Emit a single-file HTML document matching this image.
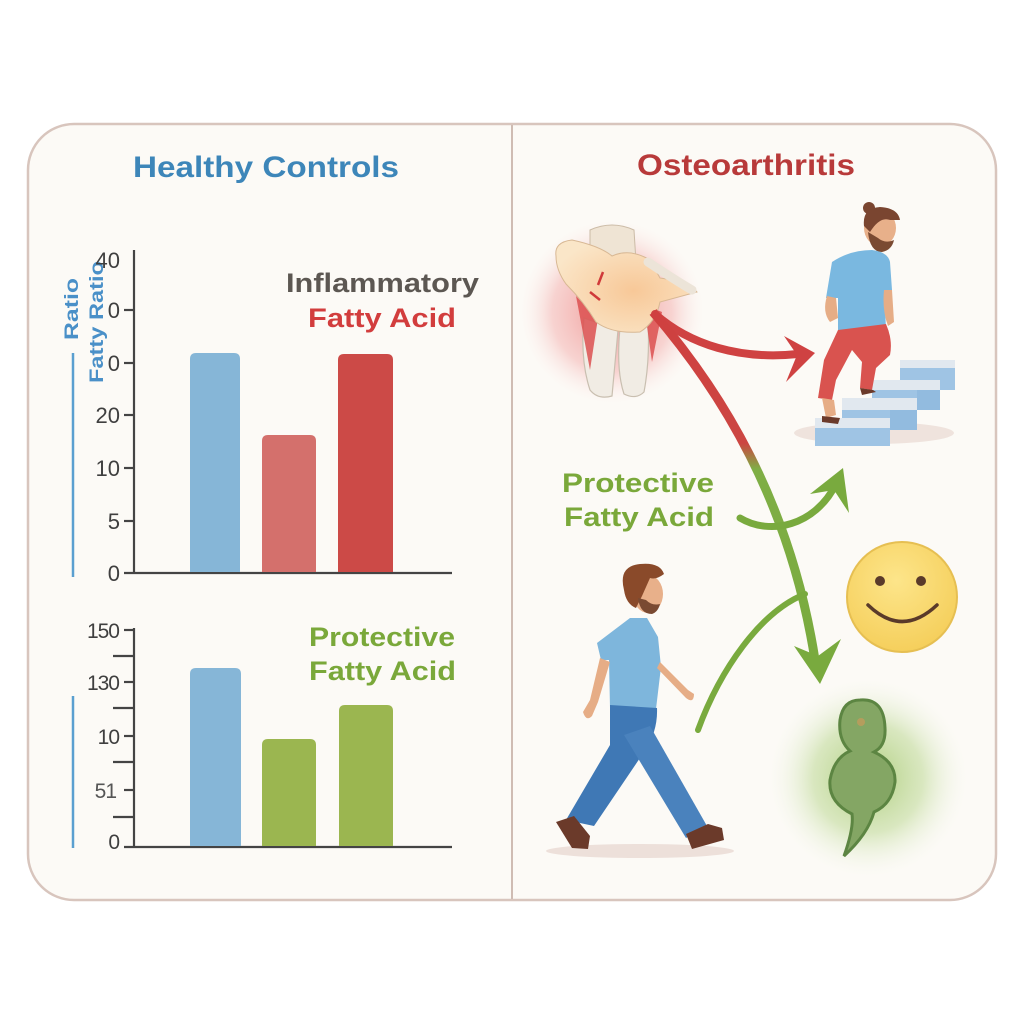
<!DOCTYPE html>
<html><head><meta charset="utf-8"><style>
html,body{margin:0;padding:0;background:#fff;}
svg{display:block;}
text{font-family:"Liberation Sans",sans-serif;}
</style></head><body>
<svg width="1024" height="1024" viewBox="0 0 1024 1024" xmlns="http://www.w3.org/2000/svg">
<defs>
<radialGradient id="redglow" cx="0.5" cy="0.5" r="0.5">
<stop offset="0" stop-color="#e64f4f" stop-opacity="0.6"/>
<stop offset="0.65" stop-color="#ef8a8a" stop-opacity="0.35"/>
<stop offset="1" stop-color="#fbe0e0" stop-opacity="0"/>
</radialGradient>
<radialGradient id="greenglow" cx="0.5" cy="0.5" r="0.5">
<stop offset="0" stop-color="#a9cb75" stop-opacity="0.95"/>
<stop offset="0.55" stop-color="#c6dda2" stop-opacity="0.65"/>
<stop offset="1" stop-color="#f4f7ec" stop-opacity="0"/>
</radialGradient>
<radialGradient id="smile" cx="0.45" cy="0.35" r="0.65">
<stop offset="0" stop-color="#fde58a"/>
<stop offset="1" stop-color="#f5cf5c"/>
</radialGradient>
<radialGradient id="kneeg" cx="0.55" cy="0.55" r="0.6">
<stop offset="0" stop-color="#f8c898"/>
<stop offset="1" stop-color="#fae6c8"/>
</radialGradient>
<linearGradient id="mainarrow" gradientUnits="userSpaceOnUse" x1="0" y1="310" x2="0" y2="680">
<stop offset="0" stop-color="#cf4040"/>
<stop offset="0.36" stop-color="#cc4642"/>
<stop offset="0.43" stop-color="#7fae45"/>
<stop offset="1" stop-color="#79aa3e"/>
</linearGradient>
</defs>

<rect x="0" y="0" width="1024" height="1024" fill="#ffffff"/>
<rect x="28" y="124" width="968" height="776" rx="46" ry="46" fill="#fcfaf6" stroke="#d8c5bd" stroke-width="2.5"/>
<line x1="512" y1="125" x2="512" y2="899" stroke="#cfbcb3" stroke-width="2"/>

<!-- titles -->
<text x="266" y="177" text-anchor="middle" font-size="30" font-weight="bold" fill="#3d86b9" textLength="266" lengthAdjust="spacingAndGlyphs">Healthy Controls</text>
<text x="746" y="175" text-anchor="middle" font-size="30" font-weight="bold" fill="#b83a3a" textLength="218" lengthAdjust="spacingAndGlyphs">Osteoarthritis</text>

<!-- TOP CHART -->
<line x1="73" y1="353" x2="73" y2="577" stroke="#5a9fd0" stroke-width="2.5"/>
<text transform="translate(78,309) rotate(-90)" text-anchor="middle" font-size="19" font-weight="bold" fill="#4a90c8" textLength="62" lengthAdjust="spacingAndGlyphs">Ratio</text>
<text transform="translate(103,322) rotate(-90)" text-anchor="middle" font-size="19" font-weight="bold" fill="#4a90c8" textLength="122" lengthAdjust="spacingAndGlyphs">Fatty Ratio</text>

<g fill="#3f3f3f" font-size="22" text-anchor="end">
<text x="120" y="268">40</text>
<text x="120" y="318">0</text>
<text x="120" y="371">0</text>
<text x="120" y="423">20</text>
<text x="120" y="476">10</text>
<text x="120" y="529">5</text>
<text x="120" y="581">0</text>
</g>
<g stroke="#444" stroke-width="2.2">
<line x1="134" y1="250" x2="134" y2="574"/>
<line x1="124" y1="573" x2="452" y2="573"/>
<line x1="124" y1="310" x2="134" y2="310"/>
<line x1="124" y1="363" x2="134" y2="363"/>
<line x1="124" y1="415" x2="134" y2="415"/>
<line x1="124" y1="468" x2="134" y2="468"/>
<line x1="124" y1="521" x2="134" y2="521"/>
</g>
<path d="M190 572 V359 Q190 353 196 353 H234 Q240 353 240 359 V572 Z" fill="#86b6d7"/>
<path d="M262 572 V441 Q262 435 268 435 H310 Q316 435 316 441 V572 Z" fill="#d4706c"/>
<path d="M338 572 V360 Q338 354 344 354 H387 Q393 354 393 360 V572 Z" fill="#cc4a47"/>
<text x="286" y="292" font-size="27" font-weight="bold" fill="#5c5752" textLength="193" lengthAdjust="spacingAndGlyphs">Inflammatory</text>
<text x="308" y="327" font-size="27" font-weight="bold" fill="#d23d3d" textLength="148" lengthAdjust="spacingAndGlyphs">Fatty Acid</text>

<!-- BOTTOM CHART -->
<line x1="73" y1="696" x2="73" y2="848" stroke="#5a9fd0" stroke-width="2.5"/>
<g fill="#3f3f3f" font-size="21" text-anchor="end" letter-spacing="-1">
<text x="119" y="638">150</text>
<text x="119" y="690">130</text>
<text x="119" y="744">10</text>
<text x="116" y="798" fill="#555">51</text>
<text x="119" y="849">0</text>
</g>
<g stroke="#444" stroke-width="2.2">
<line x1="134" y1="628" x2="134" y2="848"/>
<line x1="124" y1="847" x2="452" y2="847"/>
<line x1="124" y1="630" x2="134" y2="630"/>
<line x1="113" y1="656" x2="134" y2="656"/>
<line x1="124" y1="682" x2="134" y2="682"/>
<line x1="113" y1="708" x2="134" y2="708"/>
<line x1="124" y1="736" x2="134" y2="736"/>
<line x1="113" y1="762" x2="134" y2="762"/>
<line x1="124" y1="790" x2="134" y2="790"/>
<line x1="113" y1="817" x2="134" y2="817"/>
</g>
<path d="M190 846 V674 Q190 668 196 668 H235 Q241 668 241 674 V846 Z" fill="#86b6d7"/>
<path d="M262 846 V745 Q262 739 268 739 H310 Q316 739 316 745 V846 Z" fill="#9bb650"/>
<path d="M339 846 V711 Q339 705 345 705 H387 Q393 705 393 711 V846 Z" fill="#9bb650"/>
<text x="309" y="646" font-size="27" font-weight="bold" fill="#7aa83a" textLength="146" lengthAdjust="spacingAndGlyphs">Protective</text>
<text x="309" y="680" font-size="27" font-weight="bold" fill="#7aa83a" textLength="147" lengthAdjust="spacingAndGlyphs">Fatty Acid</text>

<!-- RIGHT PANEL -->
<!-- knee glow -->
<circle cx="612" cy="312" r="92" fill="url(#redglow)"/>
<!-- knee joint -->
<path d="M590 230 Q612 220 634 230 L636 262 L590 262 Z" fill="#efe4d4" stroke="#cbbba6" stroke-width="1"/>
<path d="M584 318 Q580 360 590 390 Q598 400 612 396 L618 330 Z" fill="#f1ece4" stroke="#c9bfb0" stroke-width="1.2"/>
<path d="M620 328 Q616 370 624 394 Q636 400 644 392 Q650 360 648 322 Z" fill="#f1ece4" stroke="#c9bfb0" stroke-width="1.2"/>
<path d="M576 296 L590 370 L598 318 Z" fill="#dc5050" opacity="0.85"/>
<path d="M644 305 L652 362 L662 312 Z" fill="#dc5050" opacity="0.85"/>
<path d="M556 256 Q554 242 572 240 Q600 246 612 256 Q630 248 650 260 L660 278 Q690 282 697 292 L660 302 Q656 322 640 332 Q612 334 596 322 Q584 302 566 284 Q556 270 556 256 Z" fill="url(#kneeg)" stroke="#d8b894" stroke-width="1"/>
<path d="M648 262 Q675 280 692 290" fill="none" stroke="#ece4d8" stroke-width="9" stroke-linecap="round"/>
<path d="M603 272 L598 285 M590 292 L600 300" stroke="#d03a3a" stroke-width="2.5" fill="none"/>

<!-- arrows -->
<path d="M655 314 C690 345, 740 360, 798 354" fill="none" stroke="#cf4242" stroke-width="8" stroke-linecap="round"/>
<polygon points="815,353 784,336 797,355 786,382" fill="#cf4242"/>
<path d="M653 312 C720 390, 790 500, 815 660" fill="none" stroke="url(#mainarrow)" stroke-width="9"/>
<polygon points="820,684 794,646 818,656 841,639" fill="#79aa3e"/>
<path d="M740 518 C770 536, 815 526, 836 484" fill="none" stroke="#79aa3e" stroke-width="7" stroke-linecap="round"/>
<polygon points="843,468 810,494 834,490 849,513" fill="#79aa3e"/>
<path d="M698 730 C720 670, 760 612, 805 594" fill="none" stroke="#79aa3e" stroke-width="6" stroke-linecap="round"/>

<!-- Protective text right -->
<text x="562" y="492" font-size="27" font-weight="bold" fill="#7aa83a" textLength="152" lengthAdjust="spacingAndGlyphs">Protective</text>
<text x="564" y="526" font-size="27" font-weight="bold" fill="#7aa83a" textLength="150" lengthAdjust="spacingAndGlyphs">Fatty Acid</text>

<!-- stairs -->
<ellipse cx="874" cy="433" rx="80" ry="11" fill="#efe3dd"/>
<g>
<rect x="900" y="360" width="55" height="8" fill="#e1e8ef"/>
<rect x="900" y="368" width="55" height="22" fill="#9fc4e4"/>
<rect x="872" y="380" width="68" height="10" fill="#e1e8ef"/>
<rect x="872" y="390" width="68" height="20" fill="#9fc4e4"/>
<rect x="842" y="398" width="75" height="12" fill="#e1e8ef"/>
<rect x="842" y="410" width="75" height="19" fill="#9fc4e4"/>
<rect x="815" y="418" width="75" height="10" fill="#e1e8ef"/>
<rect x="815" y="428" width="75" height="18" fill="#9fc4e4"/>
<rect x="890" y="410" width="27" height="20" fill="#92bbdf"/>
<rect x="917" y="390" width="23" height="20" fill="#92bbdf"/>
</g>

<!-- man on stairs -->
<circle cx="869" cy="208" r="6" fill="#7a4530"/>
<ellipse cx="880" cy="228" rx="16" ry="18" fill="#e8b08a"/>
<path d="M864 226 Q862 208 880 207 Q898 208 900 220 L890 220 Q880 216 870 232 Z" fill="#7a4530"/>
<path d="M868 232 Q870 252 882 252 Q892 250 894 240 Q885 244 878 238 Z" fill="#7a4a32"/>
<path d="M832 262 Q850 250 872 250 Q888 252 890 262 L892 290 L884 292 L886 328 Q860 336 838 333 L838 298 L826 298 Z" fill="#7ab8e0"/>
<path d="M827 296 Q822 312 830 322 L838 318 L836 298 Z" fill="#e6ad86"/>
<path d="M884 290 Q882 310 888 326 L894 322 L892 290 Z" fill="#e6ad86"/>
<path d="M838 330 L886 324 Q893 340 890 355 L876 368 L872 390 L860 388 L862 362 L852 350 L836 380 L832 400 L818 398 L824 360 Z" fill="#d9534f"/>
<path d="M822 398 L834 400 L836 415 L826 418 Z" fill="#e6ad86"/>
<path d="M822 416 L840 418 L838 424 L822 422 Z" fill="#6b3a2a"/>
<path d="M860 388 L873 390 L876 392 L862 395 Z" fill="#6b3a2a"/>

<!-- smiley -->
<circle cx="902" cy="597" r="55" fill="url(#smile)" stroke="#e6bf52" stroke-width="2"/>
<circle cx="880" cy="581" r="5" fill="#5a3a2a"/>
<circle cx="921" cy="581" r="5" fill="#5a3a2a"/>
<path d="M868 605 Q902 638 937 605" fill="none" stroke="#5a3a2a" stroke-width="3.5" stroke-linecap="round"/>

<!-- green blob -->
<circle cx="868" cy="778" r="100" fill="url(#greenglow)"/>
<path d="M860 700 Q884 698 885 728 Q886 746 874 752 Q896 762 895 782 Q892 804 874 812 Q868 834 844 856 Q854 828 852 814 Q828 802 830 780 Q834 758 850 751 Q838 740 840 720 Q843 700 860 700 Z" fill="#84a664" stroke="#5c8542" stroke-width="3"/>
<circle cx="861" cy="722" r="4" fill="#c99a5a" opacity="0.7"/>

<!-- walking man -->
<ellipse cx="640" cy="851" rx="94" ry="7" fill="#ede0da"/>
<ellipse cx="648" cy="594" rx="15" ry="19" fill="#e8b08a"/>
<path d="M624 590 Q618 566 640 564 Q660 562 664 574 Q656 580 650 578 L642 596 L636 608 Q626 604 624 590 Z" fill="#8a4a2a"/>
<path d="M638 598 Q640 614 652 614 Q658 612 660 604 Q652 606 646 600 Z" fill="#7a4a32"/>
<path d="M597 643 L630 618 L647 618 L658 637 L661 667 L656 709 L610 708 L609 660 L601 660 Z" fill="#7eb6dc"/>
<path d="M600 658 L590 700 L583 712 Q586 722 592 716 L598 702 L610 662 Z" fill="#e6ad86"/>
<path d="M657 668 L686 698 Q694 704 694 694 L688 690 L660 662 Z" fill="#e6ad86"/>
<path d="M610 705 L657 708 Q658 732 644 752 L594 826 L566 820 L610 745 Z" fill="#3f78b5"/>
<path d="M624 735 L650 726 L707 826 L686 838 Z" fill="#4a82bd"/>
<path d="M556 822 L574 816 L590 836 L588 849 L572 848 Z" fill="#6b3a2a"/>
<path d="M686 834 L708 824 L722 828 L724 840 L692 849 Z" fill="#6b3a2a"/>
</svg>
</body></html>
